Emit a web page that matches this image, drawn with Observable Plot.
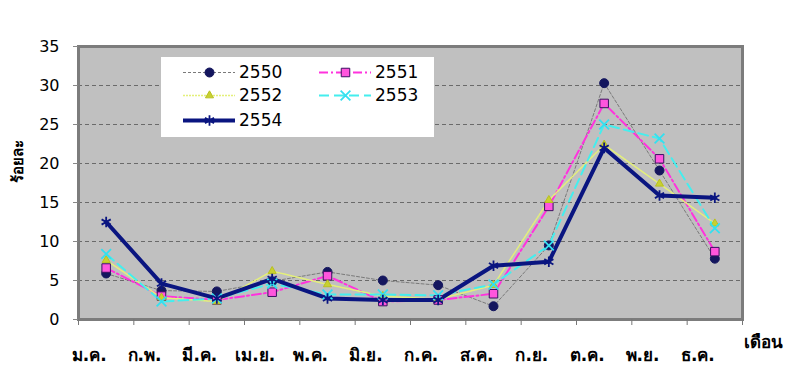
<!DOCTYPE html>
<html>
<head>
<meta charset="utf-8">
<script src="https://cdn.jsdelivr.net/npm/d3@7"></script>
<script src="https://cdn.jsdelivr.net/npm/@observablehq/plot@0.6"></script>
<style>
  body { margin: 0; background: #fff; font-family: "DejaVu Sans", Tahoma, sans-serif; }
  #wrap { position: relative; width: 800px; height: 381px; }
  #legend { position: absolute; left: 161px; top: 57px; width: 273px; height: 80px; background: #fff; }
  .item { position: absolute; display: flex; align-items: center; font-size: 17px; color: #000; }
  #xlabel { position: absolute; left: 744px; top: 328px; font-size: 17px; font-weight: 600; }
</style>
</head>
<body>
<div id="wrap">
  <div id="chart"></div>
  <div id="legend"></div>
  <div id="xlabel">เดือน</div>
</div>
<script>
const months = ["ม.ค.", "ก.พ.", "มี.ค.", "เม.ย.", "พ.ค.", "มิ.ย.", "ก.ค.", "ส.ค.", "ก.ย.", "ต.ค.", "พ.ย.", "ธ.ค."];
const years = ["2550", "2551", "2552", "2553", "2554"];
const v2550 = [5.9, 3.7, 3.6, 4.9, 6.1, 5.0, 4.4, 1.7, 9.5, 30.3, 19.1, 7.8];
const v2551 = [6.6, 3.0, 2.5, 3.5, 5.6, 2.3, 2.5, 3.3, 14.5, 27.7, 20.6, 8.7];
const v2552 = [7.6, 2.8, 2.3, 6.2, 4.5, 3.0, 2.6, 4.4, 15.3, 22.4, 17.4, 12.3];
const v2553 = [8.4, 2.3, 2.7, 4.6, 3.2, 3.2, 3.1, 4.5, 9.5, 25.0, 23.2, 11.7];
const v2554 = [12.5, 4.6, 2.7, 5.2, 2.7, 2.5, 2.5, 6.9, 7.4, 22.0, 15.9, 15.6];
const yTicks = [0, 5, 10, 15, 20, 25, 30, 35];

const seriesValues = [v2550, v2551, v2552, v2553, v2554];
const styles = {
  "2550": {stroke: "#7a7a7a", width: 1, dash: "3,2", symbol: "circle", r: 4.5, fill: "#14165e", mstroke: "#14165e"},
  "2551": {stroke: "#ff33dd", width: 2, dash: "9,3,2,3", symbol: "square", r: 4.8, fill: "#ff55dd", mstroke: "#3a1060"},
  "2552": {stroke: "#e4f07a", width: 1.5, dash: "2,1", symbol: "triangle", r: 3, fill: "#c8d030", mstroke: "#b8c020"},
  "2553": {stroke: "#44eeee", width: 2, dash: "10,5", symbol: "times", r: 4.5, fill: "none", mstroke: "#33e0f0"},
  "2554": {stroke: "#0a1580", width: 4, dash: null, symbol: "asterisk", r: 5, fill: "none", mstroke: "#0a1580"}
};

const data = [];
years.forEach((y, k) => seriesValues[k].forEach((v, i) => data.push({year: y, m: i + 0.5, v})));

const marks = [
  Plot.frame({fill: "#c0c0c0"}),
  Plot.gridY(yTicks.filter(t => t > 0 && t < 35), {stroke: "#6a6a6a", strokeOpacity: 1, strokeDasharray: "4,3", strokeWidth: 1})
];
for (const y of years) {
  const s = styles[y];
  const d = data.filter(r => r.year === y);
  marks.push(Plot.line(d, {x: "m", y: "v", stroke: s.stroke, strokeWidth: s.width, strokeDasharray: s.dash, curve: "linear"}));
}
for (const y of years) {
  const s = styles[y];
  const d = data.filter(r => r.year === y);
  marks.push(Plot.dot(d, {x: "m", y: "v", symbol: () => s.symbol, r: s.r, fill: s.fill, stroke: s.mstroke, strokeWidth: s.symbol === "times" || s.symbol === "asterisk" ? 1.8 : 1}));
}
marks.push(
  Plot.frame({stroke: "#7c7c7c", strokeWidth: 3}),
  Plot.axisY({ticks: yTicks, tickSize: 5, tickPadding: 14, fontSize: 16, stroke: "#888", label: null}),
  Plot.text(["ร้อยละ"], {frameAnchor: "left", rotate: -90, dx: -60, fontSize: 15, fontWeight: 600}),
  Plot.axisX({ticks: d3.range(13), tickFormat: () => "", tickSize: 6, stroke: "#777", label: null}),
  Plot.axisX({ticks: months.map((_, i) => i + 0.5), tickFormat: d => months[Math.floor(d)], tickSize: 0, tickPadding: 29, dx: -17, fontSize: 17, fontWeight: 600, label: null})
);

const chart = Plot.plot({
  width: 800, height: 381,
  marginLeft: 78, marginRight: 58, marginTop: 46, marginBottom: 62,
  style: {fontFamily: "DejaVu Sans, Tahoma, sans-serif", fontSize: "16px", color: "#000", background: "#fff"},
  x: {type: "linear", domain: [0, 12]},
  y: {domain: [0, 35]},
  symbol: {type: "identity"},
  marks
});
document.getElementById("chart").appendChild(chart);

// Legend
const legend = document.getElementById("legend");
const pos = {"2550": [22, 4], "2551": [158, 4], "2552": [22, 27], "2553": [158, 27], "2554": [22, 52]};
for (const y of years) {
  const s = styles[y];
  const item = document.createElement("div");
  item.className = "item";
  item.style.left = pos[y][0] + "px";
  item.style.top = pos[y][1] + "px";
  const sw = Plot.dot([0], {x: () => 0, y: () => 0, symbol: () => s.symbol, r: s.r, fill: s.fill, stroke: s.mstroke, strokeWidth: s.symbol === "times" || s.symbol === "asterisk" ? 1.8 : 1}).plot({
    width: 52, height: 22, margin: 0, x: {domain: [-1, 1], axis: null}, y: {domain: [-1, 1], axis: null}, symbol: {type: "identity"},
    marks: [Plot.ruleY([0], {stroke: s.stroke, strokeWidth: s.width, strokeDasharray: s.dash})]
  });
  sw.style.marginRight = "4px";
  item.appendChild(sw);
  const t = document.createElement("span");
  t.textContent = y;
  item.appendChild(t);
  legend.appendChild(item);
}
</script>
</body>
</html>
